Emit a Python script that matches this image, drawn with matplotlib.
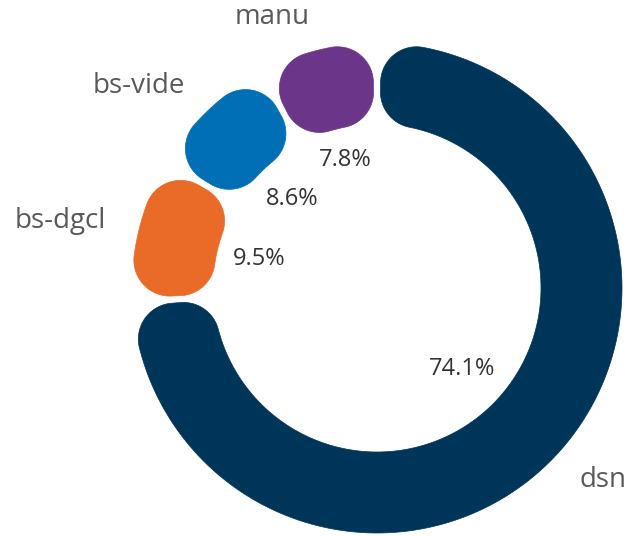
import numpy as np
import matplotlib
matplotlib.use("Agg")
import matplotlib.pyplot as plt
from matplotlib.patches import Polygon

labels = ["dsn", "bs-dgcl", "bs-vide", "manu"]
values = [74.1, 9.5, 8.6, 7.8]
colors = ["#00355A", "#EA6B27", "#006FB5", "#6B368A"]

W, H = 631, 536
fig = plt.figure(figsize=(W / 100, H / 100), dpi=100)
ax = fig.add_axes([0, 0, 1, 1])
ax.set_xlim(0, W)
ax.set_ylim(H, 0)
ax.axis("off")

cx, cy = 377, 288
r_out, r_in = 245, 164
rc = 36      # corner radius, px
gap = 2.0    # degrees between segments


def arc(x0, y0, r, a0, a1, n=60):
    # math angles in degrees, y up, around (x0, y0)
    t = np.radians(np.linspace(a0, a1, n))
    return np.column_stack([x0 + r * np.cos(t), y0 + r * np.sin(t)])


def polar(r, a):
    return r * np.cos(np.radians(a)), r * np.sin(np.radians(a))


def rounded_sector(s, e):
    # s, e clockwise from top; returns outline in image pixels
    ps, pe = 90 - s, 90 - e
    ro, ri = r_out - rc, r_in + rc
    do = np.degrees(np.arcsin(rc / ro))
    di = np.degrees(np.arcsin(rc / ri))
    p1, p2 = ps - do, pe + do     # outer corners
    p3, p4 = pe + di, ps - di     # inner corners
    c1, c2 = polar(ro, p1), polar(ro, p2)
    c3, c4 = polar(ri, p3), polar(ri, p4)
    parts = [
        arc(0, 0, r_out, p1, p2, 300),
        arc(*c2, rc, p2, pe - 90),
        arc(*c3, rc, pe - 90, p3 - 180),
        arc(0, 0, r_in, p3, p4, 300),
        arc(*c4, rc, p4 - 180, ps - 270),
        arc(*c1, rc, ps + 90 - 360, p1 - 360),
    ]
    pts = np.vstack(parts)
    return np.column_stack([cx + pts[:, 0], cy - pts[:, 1]])


def pos(cw, r):
    a = np.radians(90 - cw)
    return cx + r * np.cos(a), cy - r * np.sin(a)


total = sum(values)
start = 0.0
renderer = fig.canvas.get_renderer()
for lab, v, c in zip(labels, values, colors):
    span = v / total * 360
    pts = rounded_sector(start + gap / 2, start + span - gap / 2)
    ax.add_patch(Polygon(pts, closed=True, facecolor=c, edgecolor=c, lw=0.5))

    mid = start + span / 2
    # outer category label
    lx, ly = pos(mid, 279)
    ha = "left" if lx > cx else "right"
    ax.text(lx, ly, lab, ha=ha, va="center", fontsize=20, color="#595959",
            family="Open Sans")

    # inner percent label, kept clear of the ring
    t = ax.text(0, 0, f"{v:.1f}%", ha="center", va="center", fontsize=17,
                color="#333333", family="Open Sans")
    bb = t.get_window_extent(renderer)
    hw, hh = bb.width / 2, bb.height / 2
    a = np.radians(90 - mid)
    ux, uy = np.cos(a), np.sin(a)
    d = (r_in - 14) - (hw * abs(ux) + hh * abs(uy))
    px, py = pos(mid, d)
    t.set_position((px, py))

    start += span

fig.savefig("out.png", dpi=100)
